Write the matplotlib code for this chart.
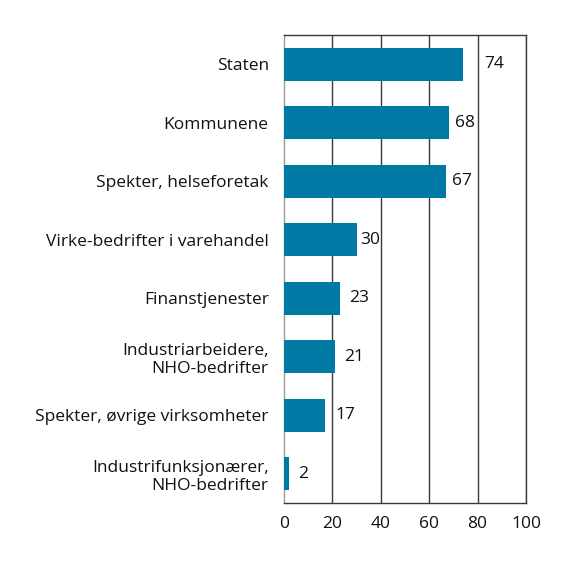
import matplotlib
matplotlib.use("Agg")
import matplotlib.pyplot as plt

categories = ["Staten", "Kommunene", "Spekter, helseforetak", "Virke-bedrifter i varehandel",
              "Finanstjenester", "Industriarbeidere,\nNHO-bedrifter", "Spekter, øvrige virksomheter",
              "Industrifunksjonærer,\nNHO-bedrifter"]
values = [74, 68, 67, 30, 23, 21, 17, 2]
xticks = [0, 20, 40, 60, 80, 100]

# pixel gap between bar end and its value label (styling nudges)
label_gap_px = [21, 6, 6, 4, 9, 9, 10, 9]

plt.rcParams['font.family'] = ['Open Sans', 'DejaVu Sans']
fig = plt.figure(figsize=(5.76, 5.68), dpi=100)
ax = fig.add_axes([284/576, 1-503/568, (526-284)/576, (503-35)/568])

y = list(range(len(categories)))
ax.barh(y, values, height=0.56, color="#0079a5", zorder=3)
for yi, v, g in zip(y, values, label_gap_px):
    ax.annotate(str(v), xy=(v, yi), xytext=(g * 0.72, 0), textcoords="offset points",
                va="center", ha="left", fontsize=12.5, color="#111111")

ax.set_xlim(0, 100)
ax.set_ylim(len(categories) - 0.5, -0.5)
ax.set_yticks(y)
ax.set_yticklabels(categories, fontsize=12.5, color="#111111", linespacing=1.15)
ax.set_xticks(xticks)
ax.set_xticklabels([str(t) for t in xticks], fontsize=12.5, color="#111111")
ax.tick_params(axis="both", length=0)
ax.tick_params(axis="y", pad=11)
ax.tick_params(axis="x", pad=9)
for t in xticks[1:]:
    ax.axvline(t, color="#3a3a3a", lw=1, zorder=1)
for s in ["top", "bottom", "right"]:
    ax.spines[s].set_color("#3a3a3a")
    ax.spines[s].set_linewidth(1)
ax.spines["left"].set_color("#999999")
ax.spines["left"].set_linewidth(1)

fig.savefig("out.png", dpi=100)
